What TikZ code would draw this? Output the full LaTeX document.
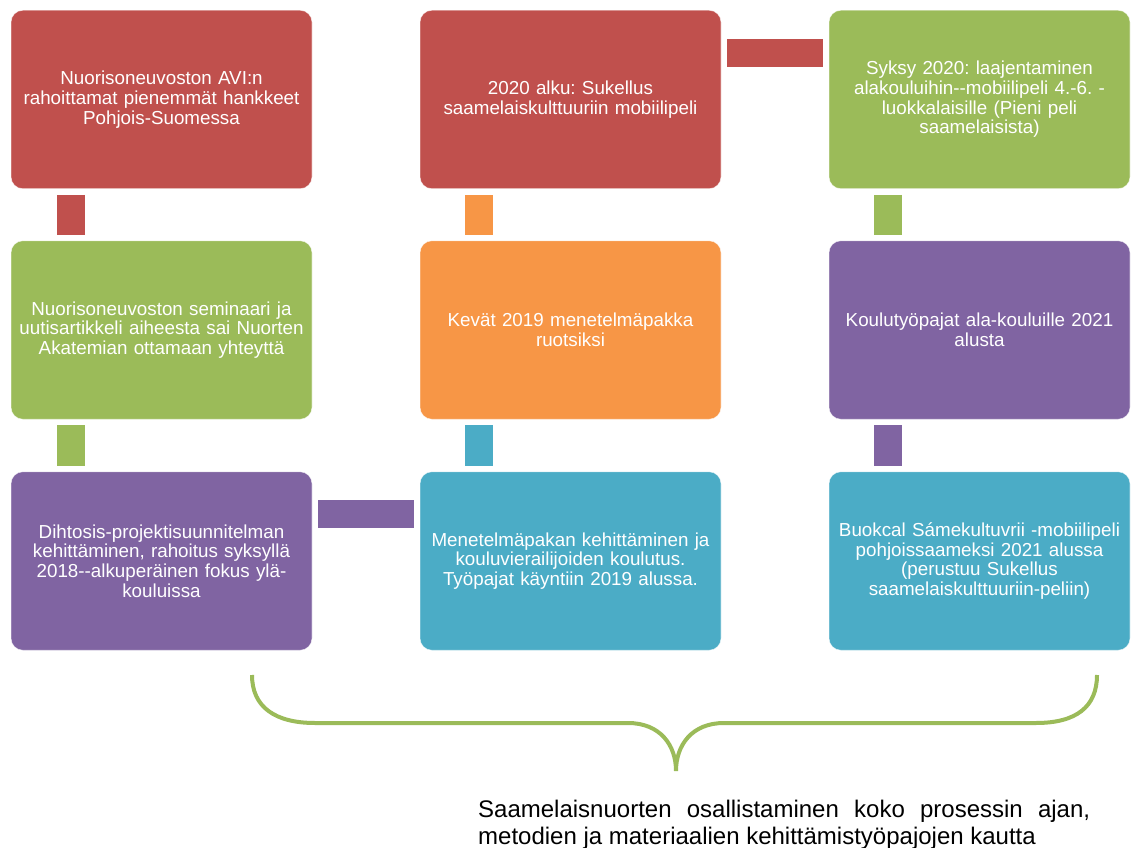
\documentclass[tikz,border=0pt]{standalone}
\usepackage{fontspec}
\setmainfont{Liberation Sans}
\usetikzlibrary{calc}
\definecolor{boxred}{HTML}{C0504D}
\definecolor{boxgreen}{HTML}{9BBB59}
\definecolor{boxorange}{HTML}{F79646}
\definecolor{boxpurple}{HTML}{8064A2}
\definecolor{boxteal}{HTML}{4BACC6}
\frenchspacing

\begin{document}
\begin{tikzpicture}[x=1pt, y=-1pt,
    box/.style={rectangle, rounded corners=12pt, minimum width=301pt, minimum height=178.5pt, text width=290pt, align=center, inner sep=0pt, outer sep=0pt, text=white, draw=white, draw opacity=0.6, line width=0.6pt, font=\fontsize{18.8}{19.7}\selectfont},
    link/.style={line width=28pt, shorten <=6pt, shorten >=6pt}]
    \useasboundingbox (0,0) rectangle (1133,848);
    \node [box, fill=boxred] (a1) at (161.5,99.5) {Nuorisoneuvoston AVI:n\\rahoittamat pienemmät hankkeet\\Pohjois-Suomessa};
    \node [box, fill=boxgreen] (a2) at (161.5,330) {Nuorisoneuvoston seminaari ja\\uutisartikkeli aiheesta sai Nuorten\\Akatemian ottamaan yhteyttä};
    \node [box, fill=boxpurple] (a3) at (161.5,561) {Dihtosis-projektisuunnitelman\\kehittäminen, rahoitus syksyllä\\2018-{}-alkuperäinen fokus ylä-\\kouluissa};
    \node [box, fill=boxred] (b1) at (570.5,99.5) {2020 alku: Sukellus\\saamelaiskulttuuriin mobiilipeli};
    \node [box, fill=boxorange] (b2) at (570.5,330) {Kevät 2019 menetelmäpakka\\ruotsiksi};
    \node [box, fill=boxteal] (b3) at (570.5,561) {Menetelmäpakan kehittäminen ja\\kouluvierailijoiden koulutus.\\Työpajat käyntiin 2019 alussa.};
    \node [box, fill=boxgreen] (c1) at (979.5,99.5) {Syksy 2020: laajentaminen\\alakouluihin-{}-mobiilipeli 4.-6. -\\luokkalaisille (Pieni peli\\saamelaisista)};
    \node [box, fill=boxpurple] (c2) at (979.5,330) {Koulutyöpajat ala-kouluille 2021\\alusta};
    \node [box, fill=boxteal] (c3) at (979.5,561) {Buokcal Sámekultuvrii -mobiilipeli\\pohjoissaameksi 2021 alussa\\(perustuu Sukellus\\saamelaiskulttuuriin-peliin)};
    \draw [link, boxred] ([xshift=60pt]a1.south west) -- ([xshift=60pt]a2.north west);
    \draw [link, boxgreen] ([xshift=60pt]a2.south west) -- ([xshift=60pt]a3.north west);
    \draw [link, boxpurple] ([yshift=-42pt]a3.north east) -- ([yshift=-42pt]b3.north west);
    \draw [link, boxteal] ([xshift=59pt]b3.north west) -- ([xshift=59pt]b2.south west);
    \draw [link, boxorange] ([xshift=59pt]b2.north west) -- ([xshift=59pt]b1.south west);
    \draw [link, boxred] ([yshift=-43pt]b1.north east) -- ([yshift=-43pt]c1.north west);
    \draw [link, boxgreen] ([xshift=59pt]c1.south west) -- ([xshift=59pt]c2.north west);
    \draw [link, boxpurple] ([xshift=59pt]c2.south west) -- ([xshift=59pt]c3.north west);
    \draw [boxgreen, line width=4pt] (252,675) .. controls (252,707) and (275,723) .. (315,723) -- (628,723) .. controls (660,723) and (676,745) .. (676,771) .. controls (676,745) and (692,723) .. (724,723) -- (1036,723) .. controls (1076,723) and (1097,707) .. (1097,675);
    \node [anchor=north west, inner sep=0pt, text width=612pt, align=justify, font=\fontsize{24}{27}\selectfont] (note) at (478,800) {Saamelaisnuorten osallistaminen koko prosessin ajan,\linebreak metodien ja materiaalien kehittämistyöpajojen kautta};
\end{tikzpicture}
\end{document}
